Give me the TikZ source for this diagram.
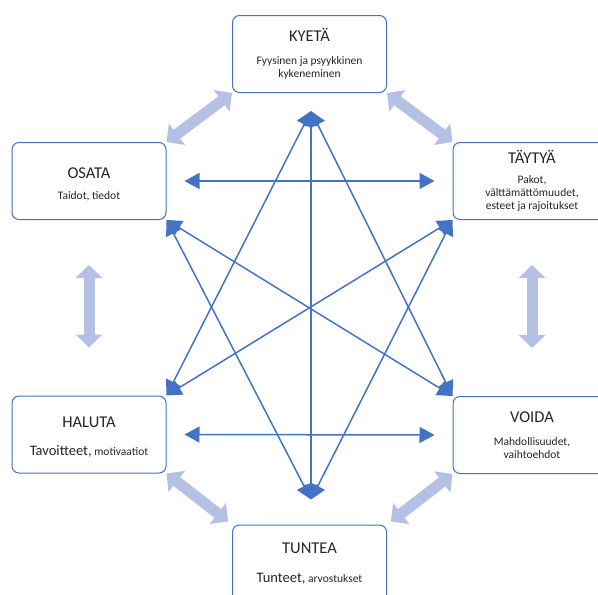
\documentclass[tikz,border=0pt]{standalone}
\usepackage{fontspec}
\setmainfont{Carlito}
\usetikzlibrary{arrows.meta}
\definecolor{linkblue}{HTML}{4472C4}
\definecolor{bandblue}{HTML}{B4C1E4}
\newcommand{\hd}[1]{{\fontsize{16.5}{18}\selectfont #1}}
\newcommand{\bg}[1]{{\fontsize{14.5}{16}\selectfont #1}}

\begin{document}
\begin{tikzpicture}[x=1pt,y=-1pt,
    font=\fontsize{11.5}{13}\selectfont,
    boxn/.style={draw=linkblue, line width=1pt, rounded corners=7pt,
      align=center, inner sep=0pt, text=black!85,
      minimum width=154pt, minimum height=77pt},
    widen/.style={minimum width=158pt},
    linkn/.style={draw=linkblue, line width=1.5pt,
      {Triangle[length=15pt,width=16pt]}-{Triangle[length=15pt,width=16pt]}},
    bandn/.style={draw=bandblue, line width=11pt,
      {Triangle[length=13pt,width=26pt]}-{Triangle[length=13pt,width=26pt]}}]
    \clip (0,0) rectangle (598,595);
    \fill[white] (0,0) rectangle (598,595);
    % boxes
    \node[boxn] (kyeta) at (309.5,54) {\hd{KYETÄ}\\[10.5pt]Fyysinen ja psyykkinen\\kykeneminen};
    \node[boxn] (osata) at (89,181) {\rule{0pt}{17pt}\hd{OSATA}\\[8pt]Taidot, tiedot};
    \node[boxn, widen] (taytya) at (532,181) {\hd{TÄYTYÄ}\\[7.5pt]Pakot,\\välttämättömuudet,\\esteet ja rajoitukset};
    \node[boxn] (haluta) at (89,434.5) {\rule{0pt}{16pt}\hd{HALUTA}\\[15pt]\bg{Tavoitteet,} motivaatiot};
    \node[boxn, widen] (voida) at (532,435) {\hd{VOIDA}\\[10.5pt]Mahdollisuudet,\\vaihtoehdot};
    \node[boxn] (tuntea) at (309.5,563.5) {\hd{TUNTEA}\\[16pt]\bg{Tunteet,} arvostukset};
    % wide arrows between neighbours
    \draw[bandn] (osata.north east) -- (kyeta.south west);
    \draw[bandn] (kyeta.south east) -- (taytya.north west);
    \draw[bandn, shorten <=45pt, shorten >=48pt] (osata.south) -- (haluta.north);
    \draw[bandn, shorten <=45pt, shorten >=48pt] (taytya.south) -- (voida.north);
    \draw[bandn, shorten >=5pt] (haluta.south east) -- (tuntea.north west);
    \draw[bandn, shorten >=5pt] (voida.south west) -- (tuntea.north east);
    % thin arrows
    \coordinate (apextop) at ([xshift=1.5pt,yshift=-18pt]kyeta.south);
    \coordinate (apexbot) at ([xshift=1.5pt,yshift=25pt]tuntea.north);
    \draw[linkn, shorten <=18pt, shorten >=18pt] (osata.east) -- (taytya.west);
    \draw[linkn, shorten <=18pt, shorten >=18pt] (haluta.east) -- (voida.west);
    \draw[linkn] (apextop) -- (apexbot);
    \draw[linkn] (apextop) -- (haluta.north east);
    \draw[linkn] (apextop) -- (voida.north west);
    \draw[linkn] (apexbot) -- (osata.south east);
    \draw[linkn] (apexbot) -- (taytya.south west);
    \draw[linkn] (osata.south east) -- (voida.north west);
    \draw[linkn] (haluta.north east) -- (taytya.south west);
\end{tikzpicture}
\end{document}
